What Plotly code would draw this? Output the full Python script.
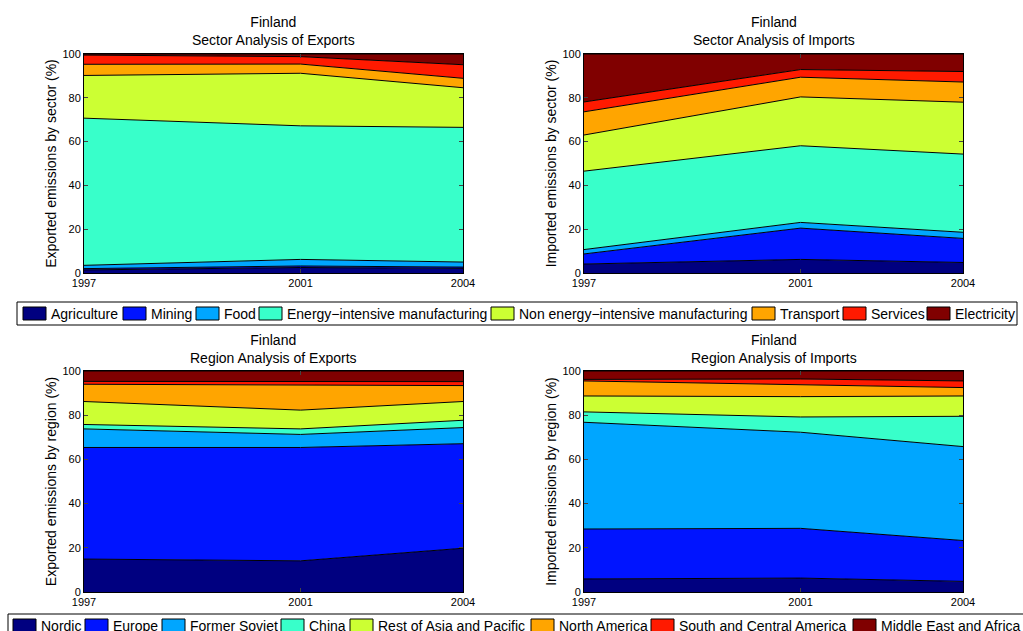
import plotly.graph_objects as go

years = [1997, 2001, 2004]

sectors = ["Agriculture", "Mining", "Food", "Energy\u2212intensive manufacturing",
           "Non energy\u2212intensive manufacturing", "Transport", "Services", "Electricity"]
regions = ["Nordic", "Europe", "Former Soviet", "China", "Rest of Asia and Pacific",
           "North America", "South and Central America", "Middle East and Africa"]
colors = ["#000080", "#0014FF", "#00A6FF", "#38FFCA", "#CCFF33", "#FFA500", "#FF1A00", "#800000"]

# shares (%) per year: 1997, 2001, 2004
exp_sector = {
    "Agriculture": [1.4, 2.5, 2.1],
    "Mining": [0.6, 0.7, 0.6],
    "Food": [1.5, 3.0, 2.3],
    "Energy\u2212intensive manufacturing": [67.2, 61.0, 61.5],
    "Non energy\u2212intensive manufacturing": [19.5, 24.0, 18.1],
    "Transport": [5.1, 4.2, 4.3],
    "Services": [4.2, 3.4, 6.2],
    "Electricity": [0.5, 1.2, 4.9],
}
imp_sector = {
    "Agriculture": [4.1, 6.2, 4.8],
    "Mining": [4.6, 14.3, 11.0],
    "Food": [2.0, 2.6, 2.8],
    "Energy\u2212intensive manufacturing": [35.8, 35.0, 35.7],
    "Non energy\u2212intensive manufacturing": [16.5, 22.3, 23.7],
    "Transport": [10.6, 9.0, 9.2],
    "Services": [4.5, 3.5, 4.8],
    "Electricity": [21.9, 7.1, 8.0],
}
exp_region = {
    "Nordic": [14.9, 14.1, 19.8],
    "Europe": [50.5, 51.3, 47.3],
    "Former Soviet": [8.4, 5.9, 7.3],
    "China": [2.0, 2.5, 3.3],
    "Rest of Asia and Pacific": [10.4, 8.5, 8.5],
    "North America": [7.8, 11.5, 7.2],
    "South and Central America": [1.3, 1.5, 1.8],
    "Middle East and Africa": [4.7, 4.7, 4.8],
}
imp_region = {
    "Nordic": [5.9, 6.3, 4.8],
    "Europe": [22.6, 22.5, 18.5],
    "Former Soviet": [48.3, 43.5, 42.5],
    "China": [4.7, 6.9, 13.7],
    "Rest of Asia and Pacific": [7.2, 9.2, 9.2],
    "North America": [6.8, 5.3, 3.8],
    "South and Central America": [0.7, 2.7, 3.0],
    "Middle East and Africa": [3.8, 3.6, 4.5],
}

FONT = "Liberation Sans, Arial, Helvetica, sans-serif"
W, H = 1023, 631

fig = go.Figure()

panels = [
    (exp_sector, sectors, "x", "y"),
    (imp_sector, sectors, "x2", "y2"),
    (exp_region, regions, "x3", "y3"),
    (imp_region, regions, "x4", "y4"),
]
for data, names, xa, ya in panels:
    for name, col in zip(names, colors):
        fig.add_trace(go.Scatter(
            x=years, y=data[name], name=name, mode="lines",
            stackgroup=xa, fillcolor=col,
            line=dict(color="black", width=1),
            xaxis=xa, yaxis=ya, showlegend=False,
        ))

xl = [84 / W, 463 / W]
xr = [584 / W, 963 / W]
yt = [1 - 273 / H, 1 - 54 / H]
yb = [1 - 592 / H, 1 - 371 / H]


def xaxis(dom, anchor):
    return dict(domain=dom, anchor=anchor, range=[1997, 2004], tickvals=years,
                ticks="inside", ticklen=4, showline=True, linecolor="black",
                linewidth=1, mirror="ticks", showgrid=False, zeroline=False,
                automargin=False, tickfont=dict(size=11, color="black"))


def yaxis(dom, anchor, title):
    return dict(domain=dom, anchor=anchor, range=[0, 100], tickvals=[0, 20, 40, 60, 80, 100],
                ticks="inside", ticklen=4, showline=True, linecolor="black",
                linewidth=1, mirror="ticks", showgrid=False, zeroline=False,
                automargin=False, tickfont=dict(size=11, color="black"),
                title=dict(text=title, font=dict(size=14, color="black"), standoff=2))


fig.update_layout(
    width=W, height=H, margin=dict(l=0, r=0, t=0, b=0),
    paper_bgcolor="white", plot_bgcolor="white",
    font=dict(family=FONT, size=11, color="black"),
    showlegend=False,
    xaxis=xaxis(xl, "y"), yaxis=yaxis(yt, "x", "Exported emissions by sector (%)"),
    xaxis2=xaxis(xr, "y2"), yaxis2=yaxis(yt, "x2", "Imported emissions by sector (%)"),
    xaxis3=xaxis(xl, "y3"), yaxis3=yaxis(yb, "x3", "Exported emissions by region (%)"),
    xaxis4=xaxis(xr, "y4"), yaxis4=yaxis(yb, "x4", "Imported emissions by region (%)"),
)

titles = [
    ("Finland<br>Sector Analysis of Exports", sum(xl) / 2, 12),
    ("Finland<br>Sector Analysis of Imports", sum(xr) / 2, 12),
    ("Finland<br>Region Analysis of Exports", sum(xl) / 2, 330),
    ("Finland<br>Region Analysis of Imports", sum(xr) / 2, 330),
]
for text, x, ytop in titles:
    fig.add_annotation(text=text, x=x, y=1 - ytop / H, xref="paper", yref="paper",
                       xanchor="center", yanchor="top", showarrow=False,
                       font=dict(size=14, color="black"))

# Legends (MATLAB-style boxed legends below each row of panels)
legend_specs = [
    # names, box (left, top, right, bottom) px, symbol left edges px, symbol top px
    (sectors, (17, 302, 1017, 325),
     [23, 123, 196, 259, 491, 752, 843, 927], 307),
    (regions, (8, 614, 1030, 640),
     [13, 85, 162, 281, 350, 531, 651, 853], 619),
]
shapes = []
for names, (bl, bt, br, bb), lefts, st in legend_specs:
    shapes.append(dict(type="rect", xref="paper", yref="paper",
                       x0=bl / W, x1=br / W, y0=1 - bb / H, y1=1 - bt / H,
                       fillcolor="white", line=dict(color="black", width=1), layer="above"))
    for name, col, lx in zip(names, colors, lefts):
        shapes.append(dict(type="rect", xref="paper", yref="paper",
                           x0=lx / W, x1=(lx + 23) / W, y0=1 - (st + 13) / H, y1=1 - st / H,
                           fillcolor=col, line=dict(color="black", width=1), layer="above"))
        fig.add_annotation(text=name, x=(lx + 26) / W, y=1 - (st + 6.5) / H,
                           xref="paper", yref="paper", xanchor="left", yanchor="middle",
                           showarrow=False, font=dict(size=14, color="black"))
fig.update_layout(shapes=shapes)

fig.write_html("out.html")
